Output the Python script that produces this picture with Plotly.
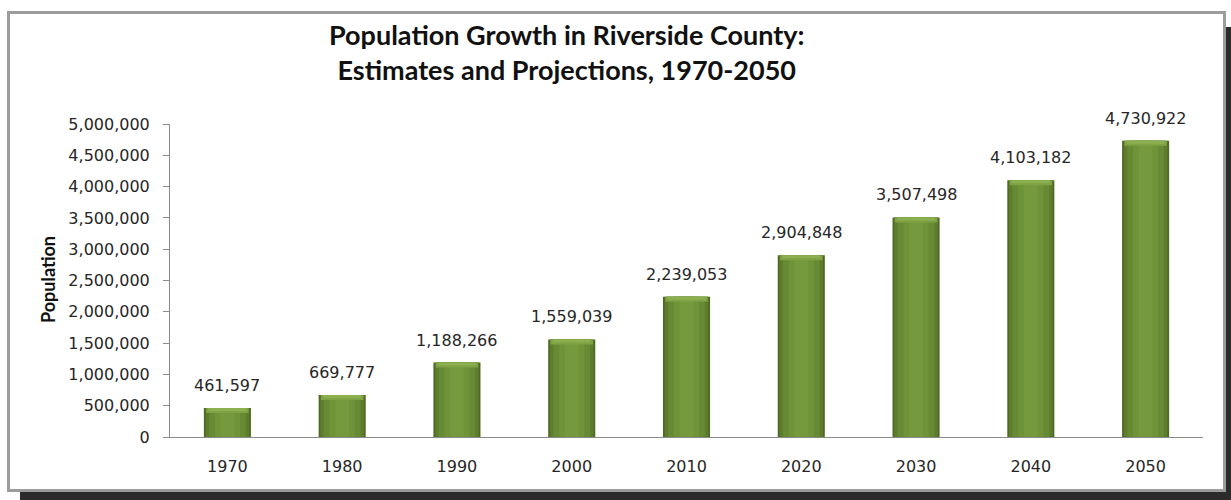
import plotly.graph_objects as go

# Riverside County population, estimates and projections
years = ["1970", "1980", "1990", "2000", "2010", "2020", "2030", "2040", "2050"]
population = [461597, 669777, 1188266, 1559039, 2239053, 2904848, 3507498, 4103182, 4730922]

y_ticks = list(range(0, 5000001, 500000))

W, H = 1231, 500
M_L, M_R, M_T, M_B = 170, 28, 124, 63
PW, PH = W - M_L - M_R, H - M_T - M_B


def px_x(px):
    return (px - M_L) / PW


def px_y(py):
    return (H - M_B - py) / PH


fig = go.Figure()

# cylinder-like shading: stacked overlays from dark edges to a light core
shades = [(0.41, "#4d6923"), (0.38, "#5d7d2d"), (0.32, "#678a34"), (0.22, "#6f9339"), (0.12, "#749a3d")]
for w, c in shades:
    fig.add_trace(go.Bar(
        x=years, y=population, width=w,
        marker=dict(color=c, line=dict(width=0)),
        hoverinfo="skip", showlegend=False,
    ))

# lighter bevel along the top of each bar
for h, w, c in [(80000, 0.37, "#7fa244"), (45000, 0.33, "#8cb050")]:
    fig.add_trace(go.Bar(
        x=years, y=[h] * len(population), base=[v - h for v in population], width=w,
        marker=dict(color=c, line=dict(width=0)),
        hoverinfo="skip", showlegend=False,
    ))

# value labels above the bars (x given as category index)
for i, v in enumerate(population):
    fig.add_annotation(
        x=i, y=v, text=f"{v:,}", showarrow=False,
        xanchor="center", yanchor="bottom", yshift=11,
        font=dict(family="DejaVu Sans", size=16, color="#262626"),
    )

# drop shadow and framed chart area
fig.add_shape(type="rect", xref="paper", yref="paper",
              x0=px_x(20), x1=px_x(1245), y0=px_y(27), y1=px_y(510),
              fillcolor="#2b2b2b", line=dict(width=0), layer="below")
fig.add_shape(type="rect", xref="paper", yref="paper",
              x0=px_x(8.5), x1=px_x(1224.5), y0=px_y(12.5), y1=px_y(490.5),
              fillcolor="white", line=dict(color="#9c9c9c", width=3), layer="below")

fig.add_annotation(
    xref="paper", yref="paper", x=px_x(48), y=px_y(280),
    xanchor="center", yanchor="middle",
    text="<b>Population</b>", textangle=-90, showarrow=False,
    font=dict(family="Lato", size=18, color="#111111"),
)

fig.add_annotation(
    xref="paper", yref="paper", x=px_x(566), y=px_y(52),
    xanchor="center", yanchor="middle",
    text="<b>Population Growth in Riverside County:<br>Estimates and Projections, 1970-2050</b>",
    showarrow=False, align="center",
    font=dict(family="Lato", size=27, color="#111111"),
)

fig.update_layout(
    width=W, height=H,
    margin=dict(l=M_L, r=M_R, t=M_T, b=M_B),
    paper_bgcolor="white", plot_bgcolor="rgba(0,0,0,0)",
    barmode="overlay",
    font=dict(family="DejaVu Sans", size=16, color="#262626"),
)

fig.update_xaxes(
    type="category", range=[-0.5, len(years) - 0.5], autorange=False,
    showgrid=False, showline=True, linecolor="#8a8a8a", linewidth=1,
    ticks="", ticklabelstandoff=15, tickfont=dict(size=16),
)
fig.update_yaxes(
    range=[0, 5000000], autorange=False, tickvals=y_ticks, tickformat=",", showgrid=False,
    showline=True, linecolor="#8a8a8a", linewidth=1, zeroline=False,
    ticks="outside", ticklen=6, tickcolor="#8a8a8a", ticklabelstandoff=10,
    tickfont=dict(size=16),
)

fig.write_html("out.html")
